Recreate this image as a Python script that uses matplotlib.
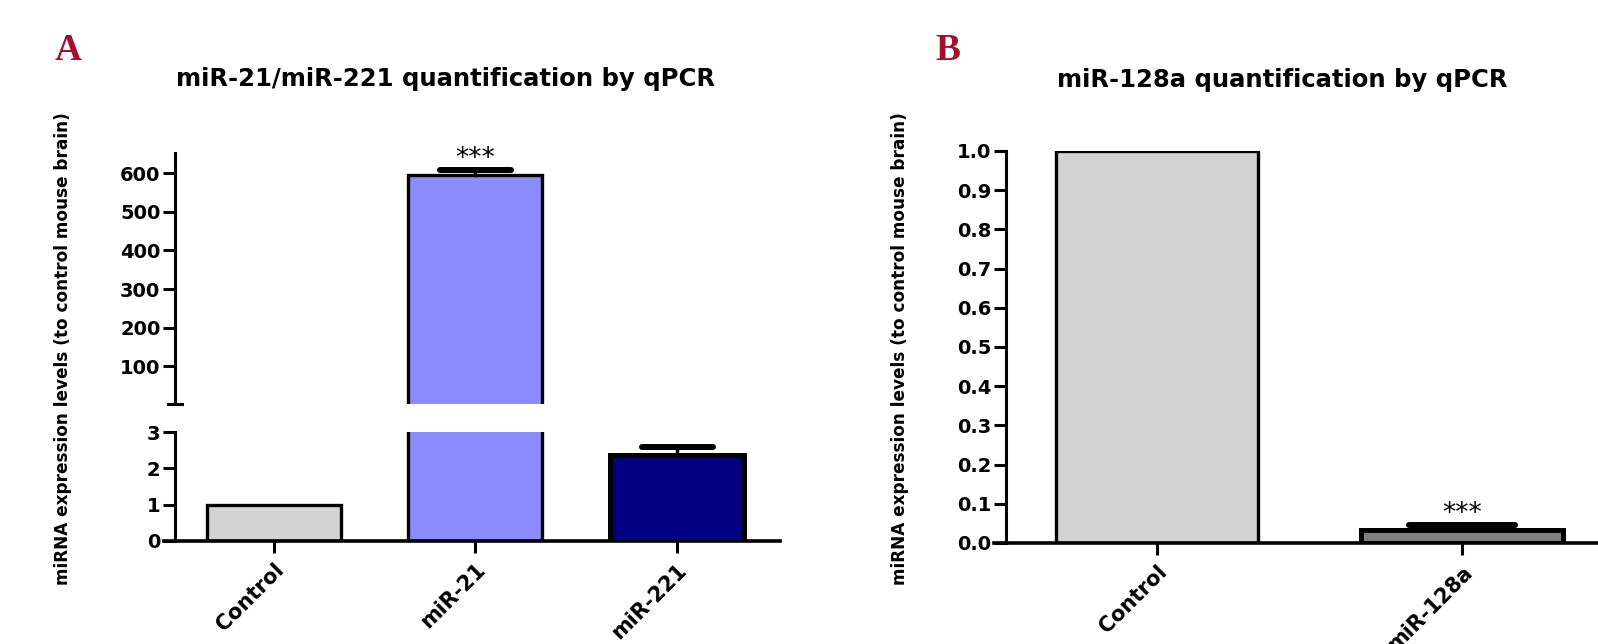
import matplotlib
matplotlib.use("Agg")
import matplotlib.pyplot as plt
import numpy as np

# panel A: miR-21 / miR-221 (broken y axis)
labels_a = ["Control", "miR-21", "miR-221"]
values_a = [1.0, 595, 2.37]
errors_a = [0, 13, 0.22]
upper_ticks_a = [100, 200, 300, 400, 500, 600]
lower_ticks_a = [0, 1, 2, 3]
break_a = 3

# panel B: miR-128a
labels_b = ["Control", "miR-128a"]
values_b = [1.0, 0.033]
errors_b = [0, 0.013]
ticks_b = [0.0, 0.1, 0.2, 0.3, 0.4, 0.5, 0.6, 0.7, 0.8, 0.9, 1.0]

colors_a = ["#d3d3d3", "#8c8cff", "#000080"]
colors_b = ["#d3d3d3", "#808080"]
edges_a = [2.4, 2.4, 3.6]
edges_b = [2.4, 3.6]

plt.rcParams["font.family"] = ["DejaVu Sans"]
plt.rcParams["font.weight"] = "bold"

W, H = 1598, 644
fig = plt.figure(figsize=(W / 100, H / 100), dpi=100)


def box(x0, y0, x1, y1):
    # pixel box (top-left origin) -> figure fraction
    return [x0 / W, 1 - y1 / H, (x1 - x0) / W, (y1 - y0) / H]


def style(ax):
    ax.spines["top"].set_visible(False)
    ax.spines["right"].set_visible(False)
    ax.spines["left"].set_linewidth(2.2)
    ax.spines["bottom"].set_linewidth(2.6)
    ax.tick_params(width=2.2, length=8.5, labelsize=14, pad=2)
    ax.tick_params(axis="x", pad=5)
    ax.patch.set_alpha(0)


def draw_bars(ax, vals, errs, cols, edges, width, floor=None):
    x = np.arange(len(vals))
    hw = width * 0.265
    base = 0
    if floor is not None:
        base = -100  # start below the visible range so no bottom edge shows
    for i in range(len(vals)):
        if floor is not None and vals[i] <= floor:
            continue
        ax.bar(x[i], vals[i] - base, bottom=base, width=width, color=cols[i],
               edgecolor="black", linewidth=edges[i], zorder=2)
        if errs[i] > 0:
            top = vals[i] + errs[i]
            ax.plot([x[i], x[i]], [vals[i], top], color="black", lw=2.5, zorder=3)
            ax.plot([x[i] - hw, x[i] + hw], [top, top], color="black", lw=4.3,
                    solid_capstyle="round", zorder=3)
    return x


# ---- A upper part
ax_up = fig.add_axes(box(175, 153, 780, 404))
draw_bars(ax_up, values_a, errors_a, colors_a, edges_a, 0.665, floor=break_a)
style(ax_up)
ax_up.spines["bottom"].set_visible(False)
ax_up.set_xlim(-0.491, 2.511)
ax_up.set_ylim(break_a, 652)
ax_up.set_yticks(upper_ticks_a)
ax_up.set_xticks([])
ax_up.plot([-0.012, 0.012], [0, 0], transform=ax_up.transAxes, color="black",
           lw=2.2, clip_on=False)
ax_up.text(1, 618, "***", ha="center", va="baseline", fontsize=19,
           fontweight="normal", clip_on=False)

# ---- A lower part
ax_lo = fig.add_axes(box(175, 432, 780, 541))
xa = draw_bars(ax_lo, values_a, errors_a, colors_a, edges_a, 0.665)
style(ax_lo)
ax_lo.set_xlim(-0.491, 2.511)
ax_lo.set_ylim(0, break_a)
ax_lo.set_yticks(lower_ticks_a)
ax_lo.set_xticks(xa)
ax_lo.set_xticklabels(labels_a, rotation=45, ha="right", rotation_mode="anchor",
                      fontsize=15)
ax_lo.plot([-0.018, 0], [0, 0], transform=ax_lo.transAxes, color="black",
           lw=2.6, clip_on=False)

fig.text(446 / W, 1 - 79 / H, "miR-21/miR-221 quantification by qPCR",
         ha="center", va="center", fontsize=17.5)
fig.text(63 / W, 1 - 349 / H, "miRNA expression levels (to control mouse brain)",
         rotation=90, ha="center", va="center", fontsize=12.2)
fig.text(68 / W, 1 - 50 / H, "A", ha="center", va="center", fontsize=27,
         family="Liberation Serif", color="#a50f2d")

# ---- B
ax_b = fig.add_axes(box(1006, 151, 1598, 543))
xb = draw_bars(ax_b, values_b, errors_b, colors_b, edges_b, 0.66)
style(ax_b)
ax_b.set_xlim(-0.495, 1.446)
ax_b.set_ylim(0, 1)
ax_b.set_yticks(ticks_b)
ax_b.set_yticklabels(["%.1f" % t for t in ticks_b])
ax_b.set_xticks(xb)
ax_b.set_xticklabels(labels_b, rotation=45, ha="right", rotation_mode="anchor",
                     fontsize=15)
ax_b.plot([-0.02, 0], [0, 0], transform=ax_b.transAxes, color="black",
          lw=2.6, clip_on=False)
ax_b.text(1, 0.057, "***", ha="center", va="baseline", fontsize=19,
          fontweight="normal", clip_on=False)

fig.text(1282 / W, 1 - 80 / H, "miR-128a quantification by qPCR",
         ha="center", va="center", fontsize=17.5)
fig.text(900 / W, 1 - 349 / H, "miRNA expression levels (to control mouse brain)",
         rotation=90, ha="center", va="center", fontsize=12.2)
fig.text(948 / W, 1 - 50 / H, "B", ha="center", va="center", fontsize=27,
         family="Liberation Serif", color="#a50f2d")

fig.savefig("out.png", dpi=100)
